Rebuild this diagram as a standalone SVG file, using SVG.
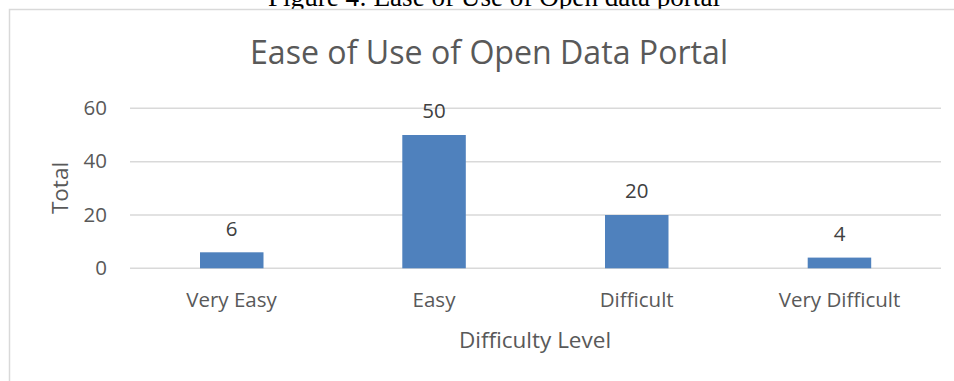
<svg xmlns="http://www.w3.org/2000/svg" width="954" height="381" viewBox="0 0 954 381">
  <style>
    .caption { font-family: "Liberation Serif", "Times New Roman", serif; font-size: 27px; fill: #000; }
    .title { font-family: "Open Sans", "Noto Sans", sans-serif; font-size: 32px; fill: #595959; }
    .tick { font-family: "Open Sans", "Noto Sans", sans-serif; font-size: 20.5px; fill: #595959; }
    .axis-title { font-family: "Open Sans", "Noto Sans", sans-serif; font-size: 22.5px; fill: #595959; }
    .value { font-family: "Open Sans", "Noto Sans", sans-serif; font-size: 20.5px; fill: #404040; text-anchor: middle; }
    .grid { stroke: #d9d9d9; stroke-width: 1.4; }
    .bar { fill: #4f81bd; }
  </style>

  <rect width="954" height="381" fill="#ffffff"/>

  <!-- figure caption, partly cut off by the top edge -->
  <text class="caption" x="494" y="6" text-anchor="middle" textLength="452" lengthAdjust="spacingAndGlyphs">Figure 4: Ease of Use of Open data portal</text>

  <!-- chart area frame -->
  <rect x="9.5" y="9.5" width="960" height="400" fill="#ffffff" stroke="#d9d9d9" stroke-width="1.5"/>

  <!-- chart title -->
  <text class="title" x="489" y="64" text-anchor="middle" textLength="478" lengthAdjust="spacingAndGlyphs">Ease of Use of Open Data Portal</text>

  <!-- gridlines -->
  <g id="gridlines">
    <line class="grid" x1="130" y1="108.3" x2="941" y2="108.3"/>
    <line class="grid" x1="130" y1="161.7" x2="941" y2="161.7"/>
    <line class="grid" x1="130" y1="215" x2="941" y2="215"/>
    <line class="grid" x1="130" y1="268.3" x2="941" y2="268.3"/>
  </g>

  <!-- value axis -->
  <g id="y-axis" class="tick" text-anchor="end">
    <text x="107" y="115">60</text>
    <text x="107" y="168.3">40</text>
    <text x="107" y="221.7">20</text>
    <text x="107" y="275">0</text>
  </g>
  <text class="axis-title" transform="translate(68,188) rotate(-90)" text-anchor="middle">Total</text>

  <!-- bars -->
  <g id="bar-very-easy">
    <rect class="bar" x="200" y="252.3" width="63.5" height="16"/>
    <text class="value" x="231.7" y="235.5">6</text>
  </g>
  <g id="bar-easy">
    <rect class="bar" x="402.3" y="135" width="63.5" height="133.3"/>
    <text class="value" x="434" y="118.3">50</text>
  </g>
  <g id="bar-difficult">
    <rect class="bar" x="605" y="215" width="63.5" height="53.3"/>
    <text class="value" x="636.7" y="198">20</text>
  </g>
  <g id="bar-very-difficult">
    <rect class="bar" x="807.7" y="257.6" width="63.5" height="10.7"/>
    <text class="value" x="839.5" y="240.8">4</text>
  </g>

  <!-- category axis -->
  <g id="x-axis" class="tick" text-anchor="middle">
    <text x="231.5" y="307">Very Easy</text>
    <text x="434" y="307">Easy</text>
    <text x="636.7" y="307">Difficult</text>
    <text x="839.5" y="307">Very Difficult</text>
  </g>
  <text class="axis-title" x="535" y="348" text-anchor="middle">Difficulty Level</text>
</svg>
